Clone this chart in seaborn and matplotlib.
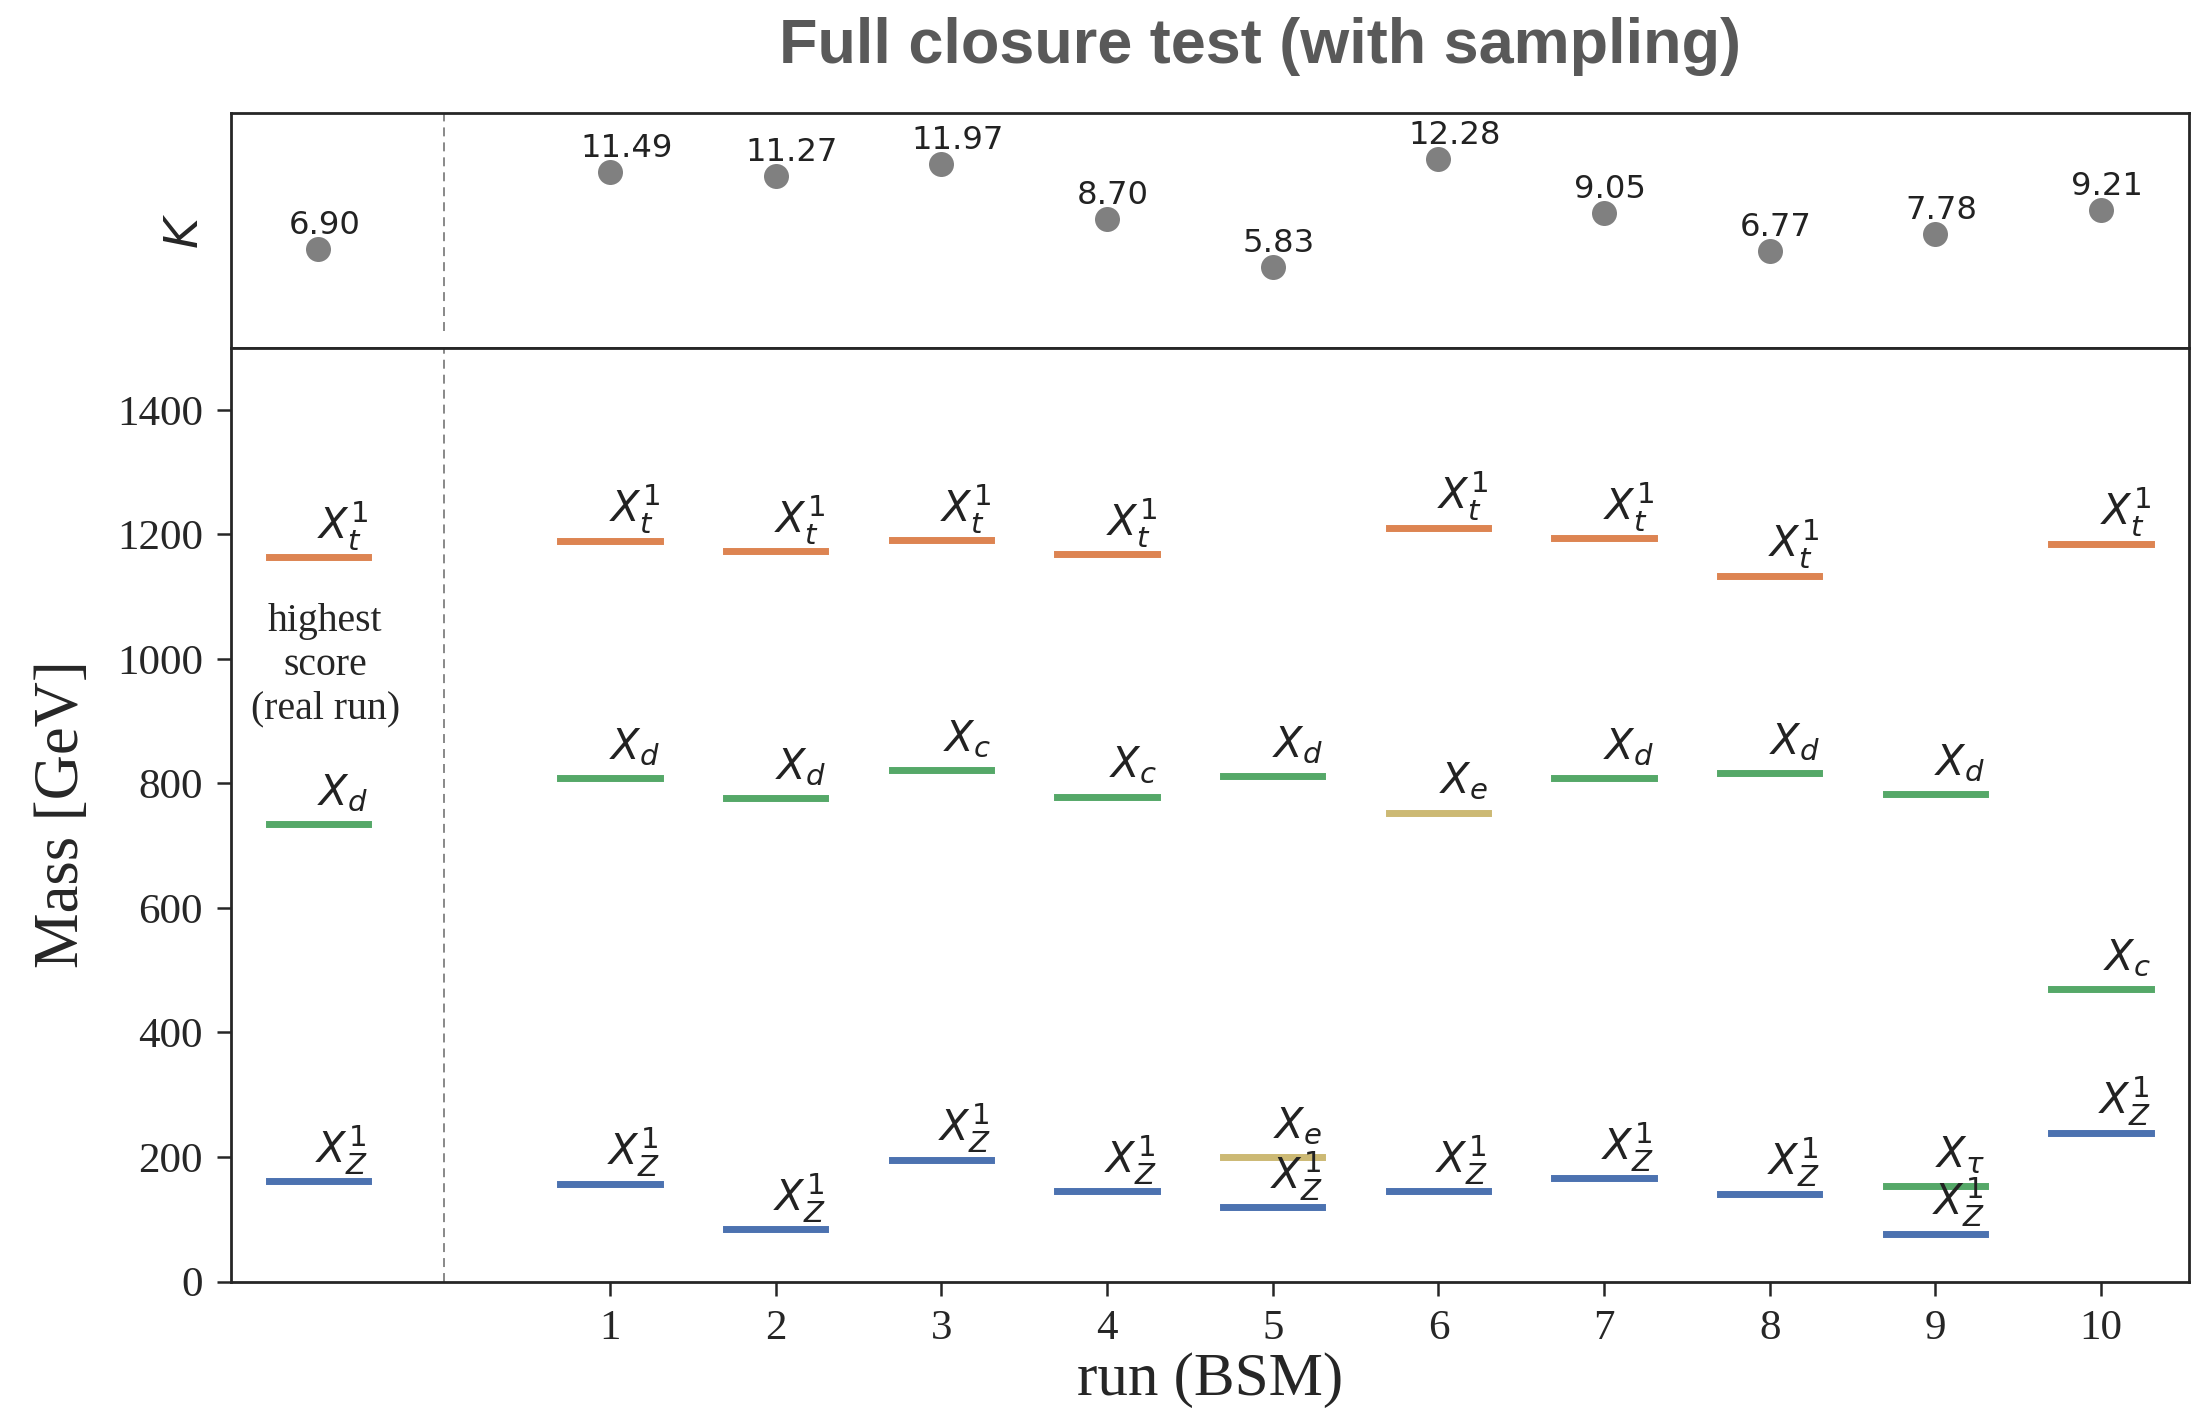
import numpy as np
import pandas as pd
import matplotlib
matplotlib.use("Agg")
import matplotlib.pyplot as plt
import seaborn as sns

# ---------------- data ----------------
run_ticks = [1, 2, 3, 4, 5, 6, 7, 8, 9, 10]
run_tick_labels = ["1", "2", "3", "4", "5", "6", "7", "8", "9", "10"]
real_run_x = -0.76
run_x = [real_run_x] + run_ticks
k_values = [6.90, 11.49, 11.27, 11.97, 8.70, 5.83, 12.28, 9.05, 6.77, 7.78, 9.21]

# mass levels (long format): run position, mass [GeV], particle label
level_run = [real_run_x, real_run_x, real_run_x,
             1, 1, 1,
             2, 2, 2,
             3, 3, 3,
             4, 4, 4,
             5, 5, 5,
             6, 6, 6,
             7, 7, 7,
             8, 8, 8,
             9, 9, 9,
             10, 10, 10]
level_mass = [1163, 735, 161,
              1190, 808, 157,
              1173, 777, 84,
              1191, 822, 196,
              1168, 779, 145,
              812, 200, 119,
              1211, 753, 145,
              1194, 809, 166,
              1134, 817, 141,
              783, 153, 77,
              1185, 470, 239]
level_name = ["Xt1", "Xd", "XZ1",
              "Xt1", "Xd", "XZ1",
              "Xt1", "Xd", "XZ1",
              "Xt1", "Xc", "XZ1",
              "Xt1", "Xc", "XZ1",
              "Xd", "Xe", "XZ1",
              "Xt1", "Xe", "XZ1",
              "Xt1", "Xd", "XZ1",
              "Xt1", "Xd", "XZ1",
              "Xd", "Xtau", "XZ1",
              "Xt1", "Xc", "XZ1"]

name_tex = {"Xt1": r"$X_t^1$", "Xd": r"$X_d$", "Xc": r"$X_c$",
            "Xe": r"$X_e$", "Xtau": r"$X_\tau$", "XZ1": r"$X_Z^1$"}
deep = sns.color_palette("deep")
name_color = {"Xt1": deep[1], "Xd": deep[2], "Xc": deep[2], "Xtau": deep[2],
              "Xe": deep[8], "XZ1": deep[0]}

levels = pd.DataFrame({"run": level_run, "mass": level_mass, "name": level_name})
kdf = pd.DataFrame({"run": run_x, "K": k_values})

# ---------------- style ----------------
sns.set_theme(style="ticks")
plt.rcParams["font.family"] = ["DejaVu Sans"]
plt.rcParams["mathtext.fontset"] = "dejavusans"
SERIF = ["Liberation Serif", "DejaVu Serif"]
INK = "#262626"

fig = plt.figure(figsize=(11.005, 7.06), dpi=200)
gs = fig.add_gridspec(2, 1, height_ratios=[234.4, 933.8], hspace=0,
                      left=0.1048, right=0.9945, top=0.9198, bottom=0.0924)
ax_top = fig.add_subplot(gs[0])
ax = fig.add_subplot(gs[1], sharex=ax_top)

XLIM = (-1.29, 10.53)
HALF = 0.3

# ---------------- top panel: K ----------------
sns.scatterplot(data=kdf, x="run", y="K", color="#808080", s=81, linewidth=0,
                ax=ax_top, zorder=3)
for xv, kv in zip(run_x, k_values):
    ax_top.text(xv - 0.18, kv + 0.9, f"{kv:.2f}", ha="left", va="baseline",
                fontsize=11.6, color="#222222", family=["DejaVu Sans"])
ax_top.vlines(0, 2, 15, colors="#888888", linewidth=0.7, linestyles=(0, (4.6, 3.1)))
ax_top.set_ylim(1.0, 15.0)
ax_top.set_xlim(*XLIM)
ax_top.set_ylabel(r"$K$", fontsize=17, color=INK, labelpad=8)
ax_top.set_xlabel("")
ax_top.tick_params(axis="both", which="both", length=0, labelbottom=False, labelleft=False)
ax_top.set_yticks([])

# ---------------- main panel: masses ----------------
for _, row in levels.iterrows():
    c = name_color[row["name"]]
    ax.hlines(row["mass"], row["run"] - HALF, row["run"] + HALF, colors=[c],
              linewidth=2.5, capstyle="projecting", zorder=3)
    ax.text(row["run"] + HALF, row["mass"] + 50, name_tex[row["name"]],
            ha="right", va="center", fontsize=15, color="#222222", zorder=4)

ax.axvline(0, color="#888888", linewidth=0.7, linestyle=(0, (4.6, 3.1)))
ax.text(real_run_x + 0.04, 990, "highest\nscore\n(real run)", ha="center", va="center",
        fontsize=14.3, family=SERIF, color=INK, linespacing=1.25)

ax.set_xlim(*XLIM)
ax.set_ylim(0, 1500)
ax.set_xticks(run_ticks)
ax.set_xticklabels(run_tick_labels)
ax.set_yticks(np.arange(0, 1401, 200))
ax.tick_params(axis="both", which="major", length=5, width=0.9, pad=5,
               labelsize=15.5, colors=INK)
for lab in ax.get_xticklabels() + ax.get_yticklabels():
    lab.set_family(SERIF)
ax.set_xlabel("run (BSM)", fontsize=22, family=SERIF, color=INK, labelpad=1.5)
ax.set_ylabel("Mass [GeV]", fontsize=22.5, family=SERIF, color=INK, labelpad=9)

for a in (ax, ax_top):
    for sp in a.spines.values():
        sp.set_visible(True)
        sp.set_linewidth(1.0)
        sp.set_color(INK)

fig.text(0.5725, 0.967, "Full closure test (with sampling)", ha="center", va="center",
         fontsize=22.7, fontweight="bold", color="#595959",
         family=["Liberation Sans", "DejaVu Sans"])

fig.savefig("out.png", dpi=200)
